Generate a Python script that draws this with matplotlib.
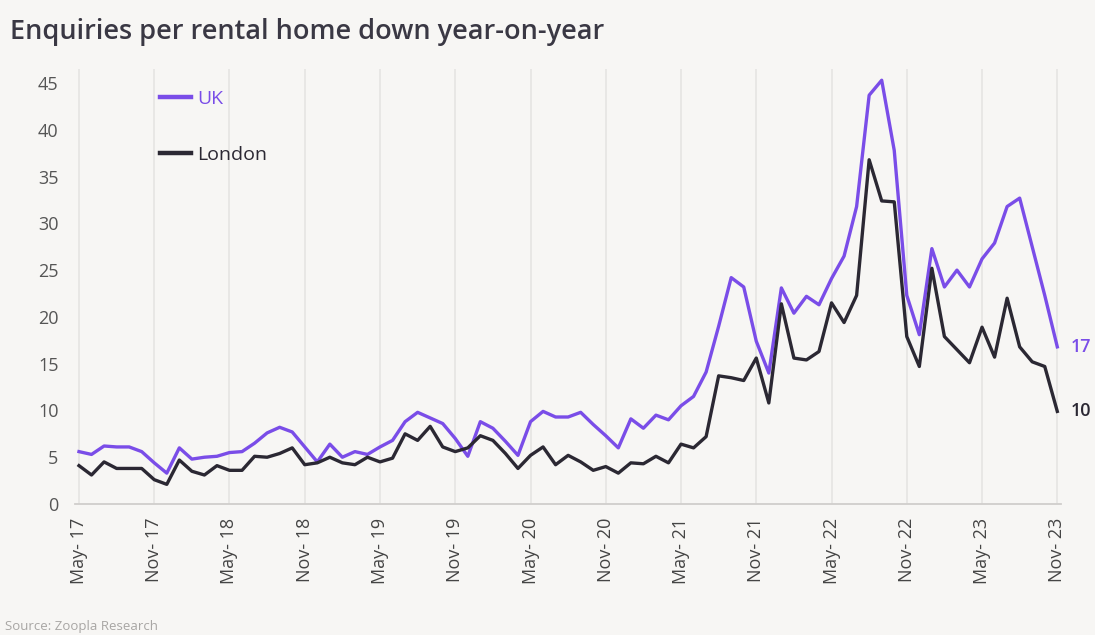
import matplotlib
matplotlib.use("Agg")
import matplotlib.pyplot as plt
from matplotlib.patches import Rectangle
import numpy as np

plt.rcParams['font.family'] = ['Open Sans', 'DejaVu Sans']

# monthly series, May-17 .. Nov-23
months = ["May- 17", "Nov- 17", "May- 18", "Nov- 18", "May- 19", "Nov- 19", "May- 20",
          "Nov- 20", "May- 21", "Nov- 21", "May- 22", "Nov- 22", "May- 23", "Nov- 23"]

uk = [5.6, 5.3, 6.2, 6.1, 6.1, 5.6, 4.4, 3.3, 6.0, 4.8, 5.0, 5.1,
      5.5, 5.6, 6.5, 7.6, 8.2, 7.7, 6.1, 4.5, 6.4, 5.0, 5.6, 5.3,
      6.1, 6.8, 8.8, 9.8, 9.2, 8.6, 7.0, 5.1, 8.8, 8.1, 6.7, 5.2,
      8.8, 9.9, 9.3, 9.3, 9.8, 8.5, 7.3, 6.0, 9.1, 8.1, 9.5, 9.0,
      10.5, 11.5, 14.1, 19.0, 24.2, 23.2, 17.4, 14.0, 23.1, 20.4, 22.2, 21.3,
      24.1, 26.5, 31.8, 43.7, 45.3, 37.8, 22.3, 18.1, 27.3, 23.2, 25.0, 23.2,
      26.2, 27.9, 31.8, 32.7, 27.5, 22.3, 16.8]

london = [4.1, 3.1, 4.5, 3.8, 3.8, 3.8, 2.6, 2.1, 4.7, 3.5, 3.1, 4.1,
          3.6, 3.6, 5.1, 5.0, 5.4, 6.0, 4.2, 4.4, 5.0, 4.4, 4.2, 5.0,
          4.5, 4.9, 7.5, 6.8, 8.3, 6.1, 5.6, 6.0, 7.3, 6.8, 5.4, 3.8,
          5.2, 6.1, 4.2, 5.2, 4.5, 3.6, 4.0, 3.3, 4.4, 4.3, 5.1, 4.4,
          6.4, 6.0, 7.2, 13.7, 13.5, 13.2, 15.6, 10.8, 21.4, 15.6, 15.4, 16.3,
          21.5, 19.4, 22.3, 36.8, 32.4, 32.3, 17.9, 14.7, 25.2, 17.9, 16.5, 15.1,
          18.9, 15.7, 22.0, 16.8, 15.2, 14.7, 9.9]

bg = '#f7f6f4'
purple = '#7a4de8'
dark = '#2b2833'

x = np.arange(len(uk))

fig = plt.figure(figsize=(10.95, 6.35), dpi=100, facecolor=bg)
ax = fig.add_axes([0.0687, 0.2063, 0.9003, 0.685])
ax.set_facecolor(bg)

ax.plot(x, uk, color=purple, lw=2.4, label='UK', zorder=3)
ax.plot(x, london, color=dark, lw=2.4, label='London', zorder=3)

ax.set_xlim(-0.3, 78.3)
ax.set_ylim(0, 46.5)
ax.set_xticks(np.arange(0, 79, 6))
ax.set_xticklabels(months, rotation=90, fontsize=13, color='#444444')
ax.set_yticks(np.arange(0, 46, 5))
ax.tick_params(axis='y', length=0, pad=12, labelsize=13, labelcolor='#555555')
ax.tick_params(axis='x', length=0, pad=10)
ax.grid(axis='x', color='#e6e4e2', lw=1.2, zorder=0)
for s in ['top', 'right', 'left']:
    ax.spines[s].set_visible(False)
ax.spines['bottom'].set_color('#d0cecc')
ax.spines['bottom'].set_linewidth(1.3)

# background box behind the legend (hides the gridlines there)
ax.add_patch(Rectangle((0.015, 0.738), 0.28, 0.3, transform=ax.transAxes,
                       facecolor=bg, edgecolor='none', zorder=1, clip_on=False))

leg = ax.legend(loc='upper left', bbox_to_anchor=(0.086, 0.952), frameon=False, fontsize=14,
                handlelength=1.6, handletextpad=0.3, labelspacing=1.95, borderpad=0,
                borderaxespad=0, labelcolor=[purple, dark])
for h in leg.get_lines():
    h.set_linewidth(3.2)

ax.annotate('17', (x[-1], uk[-1]), xytext=(10, 0), textcoords='offset points',
            va='center', fontsize=13, color=purple, fontweight='semibold')
ax.annotate('10', (x[-1], london[-1]), xytext=(10, 0), textcoords='offset points',
            va='center', fontsize=13, color=dark, fontweight='semibold')

fig.text(0.009, 0.95, 'Enquiries per rental home down year-on-year', fontsize=19.5,
         fontweight='semibold', color='#3a3844', va='center')
fig.text(0.005, 0.003, 'Source: Zoopla Research', fontsize=9.5, color='#a8a6a4', va='bottom')

fig.savefig('out.png', dpi=100, facecolor=bg)
